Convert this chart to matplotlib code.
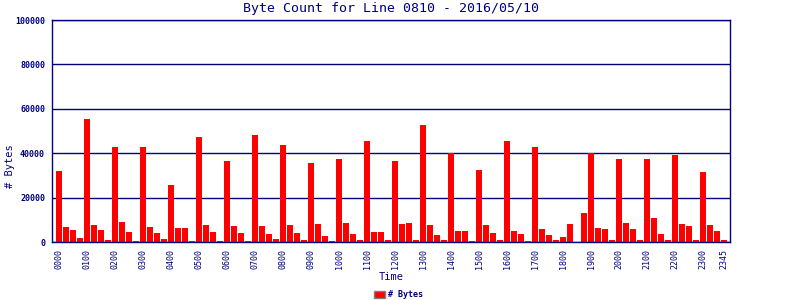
import matplotlib
matplotlib.use("Agg")
import matplotlib.pyplot as plt
from matplotlib.patches import Patch

title = "Byte Count for Line 0810 - 2016/05/10"
hours = [f"{h:02d}00" for h in range(24)] + ["2345"]
slots = [f"{h:02d}{m:02d}" for h in range(24) for m in (0, 15, 30, 45)]
byte_counts = [
    32200, 6900, 5600, 2000,
    55200, 7800, 5600, 1050,
    43000, 9200, 4700, 600,
    43000, 6900, 4200, 1500,
    25900, 6500, 6500, 600,
    47500, 7800, 4700, 600,
    36700, 7400, 4200, 600,
    48000, 7400, 3800, 1500,
    43900, 7800, 4200, 1050,
    35800, 8300, 2900, 600,
    37600, 8700, 3800, 1050,
    45700, 4700, 4700, 1050,
    36700, 8300, 8700, 1050,
    52900, 7800, 3300, 1050,
    40000, 5100, 5100, 600,
    32600, 7800, 4200, 1050,
    45300, 5100, 3800, 600,
    42600, 6000, 3300, 1050,
    2400, 8300, 0, 13200,
    40000, 6500, 6000, 1050,
    37600, 8700, 6000, 1050,
    37600, 11000, 3800, 1050,
    39000, 8300, 7400, 1050,
    31700, 7800, 5100, 1050,
]
yticks = [0, 20000, 40000, 60000, 80000, 100000]

NAVY = "#000080"
MONO = "DejaVu Sans Mono"

fig = plt.figure(figsize=(8, 3), dpi=100)
ax = fig.add_axes([0.065, 0.1933, 0.8475, 0.74])

x = list(range(len(slots)))
bars = ax.bar(x, byte_counts, width=0.86, color="#ff0000", linewidth=0, zorder=3, label="# Bytes")

ax.set_xlim(-1.07, 95.86)
ax.set_ylim(0, 100000)
ax.set_yticks(yticks)
ax.set_yticklabels([str(v) for v in yticks], fontsize=6, family=MONO, color=NAVY, fontweight="bold")
tick_pos = [slots.index(h) for h in hours]
ax.set_xticks(tick_pos)
ax.set_xticklabels(hours, rotation=90, fontsize=6, family=MONO, color=NAVY)
ax.tick_params(axis="both", length=0)
ax.tick_params(axis="y", pad=5)
ax.tick_params(axis="x", pad=5)
ax.grid(axis="y", color=NAVY, linewidth=1.0, zorder=1)
for s in ax.spines.values():
    s.set_color(NAVY)
    s.set_linewidth(1.0)
    s.set_zorder(4)

fig.text(0.489, 0.992, title, ha="center", va="top", fontsize=9.5, family=MONO, color=NAVY)
fig.text(0.012, 0.445, "# Bytes", rotation=90, ha="center", va="center", fontsize=7.5, family=MONO, color=NAVY)
fig.text(0.489, 0.06, "Time", ha="center", va="bottom", fontsize=7.5, family=MONO, color=NAVY)

handle = Patch(facecolor="#ff0000", edgecolor="#808080", linewidth=1.0)
leg = fig.legend([handle], ["# Bytes"], loc="center", bbox_to_anchor=(0.498, 0.017),
                 frameon=False, handlelength=1.3, handleheight=0.9, handletextpad=0.3,
                 prop={"family": MONO, "size": 6, "weight": "bold"}, borderpad=0)
for t in leg.get_texts():
    t.set_color(NAVY)

fig.savefig("out.png", dpi=100)
